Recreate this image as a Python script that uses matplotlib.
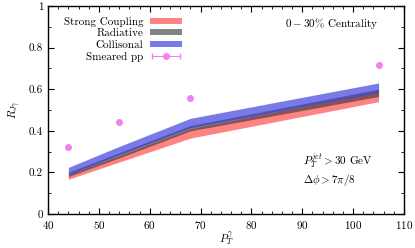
import numpy as np
import matplotlib.pyplot as plt
from matplotlib.ticker import MultipleLocator
from matplotlib.legend_handler import HandlerErrorbar
from matplotlib.container import ErrorbarContainer

plt.rcParams['font.family'] = 'serif'
plt.rcParams['font.serif'] = ['cmr10']
plt.rcParams['mathtext.fontset'] = 'cm'
plt.rcParams['axes.formatter.use_mathtext'] = True
plt.rcParams['font.size'] = 8

# ---------------- datos ----------------
pt = [44, 54, 68, 105]

strong_lo = [0.167, 0.250, 0.365, 0.540]
strong_hi = [0.190, 0.280, 0.410, 0.588]

rad_lo = [0.180, 0.270, 0.400, 0.565]
rad_hi = [0.200, 0.295, 0.425, 0.600]

coll_lo = [0.190, 0.285, 0.415, 0.585]
coll_hi = [0.224, 0.325, 0.460, 0.630]

pp_x = [44, 54, 68, 105]
pp_y = [0.322, 0.441, 0.556, 0.716]


def fmt_y(v, pos):
    v = round(v, 3)
    if v == 0:
        return '0'
    if v == 1:
        return '1'
    return f'{v:.1f}'


# ---------------- figura ----------------
fig = plt.figure(figsize=(4.15, 2.48), dpi=100)
ax = fig.add_axes([0.1157, 0.137, 0.8578, 0.8388])

ax.fill_between(pt, strong_lo, strong_hi, color=(1.0, 0.35, 0.35), alpha=0.75,
                lw=0, label='Strong Coupling')
ax.fill_between(pt, rad_lo, rad_hi, color=(0.2, 0.2, 0.2), alpha=0.6,
                lw=0, label='Radiative')
ax.fill_between(pt, coll_lo, coll_hi, color=(0.2, 0.2, 0.85), alpha=0.65,
                lw=0, label='Collisonal')
ax.errorbar(pp_x, pp_y, xerr=np.zeros(len(pp_x)), fmt='o', ms=4,
            color='violet', ecolor='violet', elinewidth=0.8, capsize=2,
            label='Smeared pp')

ax.set_xlim(40, 110)
ax.set_ylim(0, 1)
ax.xaxis.set_major_locator(MultipleLocator(10))
ax.xaxis.set_minor_locator(MultipleLocator(2))
ax.yaxis.set_major_locator(MultipleLocator(0.2))
ax.yaxis.set_minor_locator(MultipleLocator(0.1))
ax.yaxis.set_major_formatter(plt.FuncFormatter(fmt_y))
ax.tick_params(which='both', direction='in', top=True, right=True)
ax.tick_params(which='major', length=4)
ax.tick_params(which='minor', length=2)
for s in ax.spines.values():
    s.set_linewidth(1.0)

ax.set_xlabel(r'$P_T^{\gamma}$', labelpad=0)
ax.set_ylabel(r'$R_{J\gamma}$', labelpad=4)

ax.legend(loc='upper left', frameon=False, markerfirst=False, handlelength=2.9,
          handleheight=0.45, handletextpad=0.6, labelspacing=0.18,
          borderaxespad=0.55, bbox_to_anchor=(0.014, 1.0), fontsize=8,
          handler_map={ErrorbarContainer: HandlerErrorbar(xerr_size=1.3)})

ax.text(0.93, 0.915, r'$0 - 30\%$ Centrality', transform=ax.transAxes,
        ha='right', va='center')
ax.text(0.715, 0.255, r'$P_T^{jet} > 30$ GeV', transform=ax.transAxes,
        ha='left', va='center')
ax.text(0.715, 0.165, r'$\Delta\phi > 7\pi/8$', transform=ax.transAxes,
        ha='left', va='center')

fig.savefig('out.png', dpi=100)
